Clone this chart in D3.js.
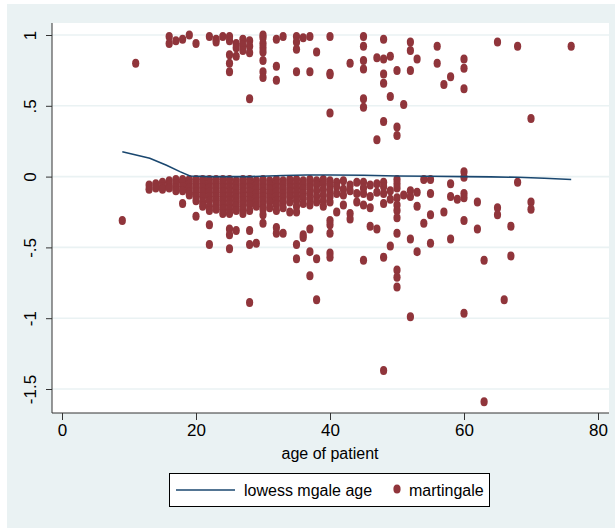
<!DOCTYPE html>
<html>
<head>
<meta charset="utf-8">
<script src="https://cdn.jsdelivr.net/npm/d3@7"></script>
<style>
  body { margin: 0; background: #fff; }
  text { font-family: "Liberation Sans", Arial, sans-serif; fill: #000; }
</style>
</head>
<body>
<div id="chart"></div>
<script>
const W = 615, H = 528;
const PLOT = { left: 52, right: 609, top: 23, bottom: 413 };
const MAROON = "#90353b", NAVY = "#1a476f", BLUISH = "#eaf2f3";

// residuals near +1 (failures), as [age, martingale]
const upperPoints = [
  [11,0.80],[16,0.99],[16,0.94],[17,0.96],[18,0.97],[19,1.0],[20,0.94],
  [22,0.99],[23,0.97],[23,0.95],[24,0.99],[25,0.99],[25,0.96],[25,0.86],[25,0.80],[25,0.74],
  [26,0.94],[26,0.91],[26,0.85],[27,0.97],[27,0.93],[27,0.89],
  [28,0.96],[28,0.92],[28,0.875],[28,0.55],
  [30,1.0],[30,0.98],[30,0.94],[30,0.91],[30,0.88],[30,0.82],[30,0.74],[30,0.70],
  [32,0.97],[32,0.78],[32,0.68],[33,0.99],[35,0.99],[35,0.95],[35,0.90],[35,0.74],
  [36,0.98],[37,0.99],[37,0.74],[38,0.88],[40,0.99],[40,0.73],[40,0.72],[40,0.45],[43,0.80],
  [45,0.99],[45,0.92],[45,0.82],[45,0.76],[45,0.55],[45,0.49],[47,0.84],[47,0.26],
  [48,0.97],[48,0.83],[48,0.725],[48,0.66],[48,0.39],[49,0.85],[49,0.565],
  [50,0.75],[50,0.35],[50,0.29],[51,0.51],[52,0.95],[52,0.89],[52,0.75],[53,0.83],
  [56,0.92],[56,0.80],[57,0.65],[58,0.705],[60,0.83],[60,0.765],[60,0.62],
  [65,0.95],[68,0.92],[70,0.41],[76,0.92]
];

// censored residuals, grouped by age
const bandAges = [9,13,14,15,16,17,18,19,20,21,22,23,24,25,26,27,28,29,30,31,32,33,34,35,36,37,38,39,40,
  41,42,43,44,45,46,47,48,49,50,51,52,53,54,55,57,58,59,60,62,63,65,66,67,68,70];
const bandValues = [
  [-0.31],
  [-0.06,-0.09],
  [-0.05,-0.08],
  [-0.04,-0.07,-0.09],
  [-0.03,-0.06,-0.08],
  [-0.02,-0.05,-0.08,-0.10],
  [-0.02,-0.04,-0.07,-0.10,-0.19],
  [-0.02,-0.05,-0.08,-0.11,-0.13],
  [-0.02,-0.05,-0.08,-0.11,-0.14,-0.17,-0.28],
  [-0.02,-0.05,-0.08,-0.11,-0.14,-0.18,-0.21],
  [-0.02,-0.05,-0.08,-0.11,-0.14,-0.17,-0.21,-0.24,-0.34,-0.48],
  [-0.02,-0.05,-0.08,-0.11,-0.14,-0.17,-0.20,-0.23],
  [-0.02,-0.05,-0.08,-0.11,-0.14,-0.17,-0.20,-0.23,-0.26],
  [-0.02,-0.05,-0.08,-0.11,-0.14,-0.17,-0.20,-0.23,-0.26,-0.37,-0.41,-0.51],
  [-0.03,-0.06,-0.09,-0.12,-0.15,-0.18,-0.21,-0.24,-0.38],
  [-0.02,-0.05,-0.08,-0.11,-0.14,-0.17,-0.20,-0.23,-0.26],
  [-0.02,-0.05,-0.08,-0.11,-0.14,-0.17,-0.20,-0.24,-0.38,-0.48,-0.89],
  [-0.03,-0.06,-0.09,-0.12,-0.15,-0.18,-0.21,-0.47],
  [-0.02,-0.05,-0.08,-0.11,-0.14,-0.17,-0.20,-0.23,-0.27,-0.33],
  [-0.03,-0.06,-0.09,-0.12,-0.15,-0.18,-0.22],
  [-0.02,-0.05,-0.08,-0.11,-0.14,-0.17,-0.20,-0.24,-0.36,-0.40],
  [-0.03,-0.06,-0.09,-0.12,-0.15,-0.18,-0.22,-0.40],
  [-0.02,-0.05,-0.08,-0.11,-0.14,-0.18,-0.25],
  [-0.02,-0.05,-0.08,-0.11,-0.14,-0.17,-0.21,-0.25,-0.48,-0.58],
  [-0.03,-0.06,-0.09,-0.12,-0.15,-0.19,-0.41,-0.43],
  [-0.02,-0.05,-0.08,-0.12,-0.16,-0.20,-0.37,-0.53,-0.70],
  [-0.03,-0.06,-0.10,-0.14,-0.18,-0.58,-0.87],
  [-0.02,-0.05,-0.09,-0.13,-0.17,-0.21],
  [-0.03,-0.06,-0.10,-0.14,-0.18,-0.31,-0.34,-0.40,-0.54,-0.57],
  [-0.04,-0.07,-0.12,-0.25],
  [-0.03,-0.09,-0.13,-0.20],
  [-0.06,-0.10,-0.26,-0.30],
  [-0.04,-0.12,-0.18],
  [-0.04,-0.08,-0.12,-0.20,-0.59],
  [-0.06,-0.14,-0.22,-0.35],
  [-0.05,-0.11,-0.37],
  [-0.04,-0.07,-0.12,-0.19,-0.57,-1.37],
  [-0.10,-0.16,-0.49],
  [-0.02,-0.05,-0.08,-0.15,-0.20,-0.24,-0.29,-0.40,-0.66,-0.71,-0.78],
  [-0.13],
  [-0.10,-0.14,-0.44,-0.99],
  [-0.11,-0.21,-0.53],
  [-0.02,-0.33],
  [-0.02,-0.12,-0.27,-0.47],
  [-0.25],
  [-0.05,-0.14,-0.44],
  [-0.16],
  [0.035,-0.005,-0.12,-0.15,-0.31,-0.965],
  [-0.18,-0.37],
  [-0.59,-1.59],
  [-0.22,-0.27],
  [-0.87],
  [-0.35,-0.56],
  [-0.04],
  [-0.18,-0.23]
];

// lowess smooth of martingale on age
const lowessAge = [9,13.1,15.6,17.6,19.1,22,28,33,36.5,40,45,50,55,60,64,68,72,76];
const lowessFit = [0.176,0.13,0.08,0.035,0.004,0.0,0.0,0.008,0.011,0.011,0.01,0.004,0.003,0.0,-0.002,-0.005,-0.012,-0.02];

const yTicks = [-1.5,-1,-0.5,0,0.5,1];
const xTicks = [0,20,40,60,80];

const svg = d3.select("#chart").append("svg").attr("width", W).attr("height", H);

svg.append("rect").attr("x", 7).attr("y", 4).attr("width", W - 7).attr("height", H - 4).attr("fill", BLUISH);
svg.append("rect")
  .attr("x", PLOT.left).attr("y", PLOT.top)
  .attr("width", PLOT.right - PLOT.left).attr("height", PLOT.bottom - PLOT.top)
  .attr("fill", "#fff");

const x = d3.scaleLinear().domain([0, 80]).range([62, 598]);
const y = d3.scaleLinear().domain([-1.5, 1]).range([389, 35]);

const fmt = v => String(v).replace("0.", ".");

// grid
svg.append("g").selectAll("line").data(yTicks).join("line")
  .attr("x1", PLOT.left).attr("x2", PLOT.right)
  .attr("y1", d => y(d)).attr("y2", d => y(d))
  .attr("stroke", BLUISH).attr("stroke-width", 1.6);

// points
const points = upperPoints.concat(bandAges.flatMap((a, i) => bandValues[i].map(v => [a, v])));
svg.append("g").selectAll("ellipse").data(points).join("ellipse")
  .attr("cx", d => x(d[0])).attr("cy", d => y(d[1]))
  .attr("rx", 3.6).attr("ry", 4.5)
  .attr("fill", MAROON);

// lowess
const line = d3.line().x(d => x(d[0])).y(d => y(d[1]));
svg.append("path")
  .datum(lowessAge.map((a, i) => [a, lowessFit[i]]))
  .attr("d", line).attr("fill", "none").attr("stroke", NAVY).attr("stroke-width", 1.6);

// axes
const yAxis = svg.append("g").attr("transform", `translate(${PLOT.left},0)`)
  .call(d3.axisLeft(y).tickValues(yTicks).tickFormat(fmt).tickSize(6).tickPadding(0));
yAxis.select(".domain").remove();
yAxis.selectAll(".tick line").attr("stroke", "#333");
yAxis.selectAll(".tick text")
  .attr("x", 0)
  .attr("text-anchor", "middle")
  .attr("transform", "translate(-22,0) rotate(-90)")
  .attr("dy", "0.35em")
  .attr("font-size", 17).attr("font-family", null);
svg.append("line").attr("x1", PLOT.left).attr("x2", PLOT.left)
  .attr("y1", PLOT.top).attr("y2", PLOT.bottom).attr("stroke", "#333");

const xAxis = svg.append("g").attr("transform", `translate(0,${PLOT.bottom})`)
  .call(d3.axisBottom(x).tickValues(xTicks).tickFormat(d3.format("d")).tickSize(7).tickPadding(4));
xAxis.select(".domain").remove();
xAxis.selectAll(".tick line").attr("stroke", "#333");
xAxis.selectAll(".tick text").attr("font-size", 17).attr("font-family", null);
svg.append("line").attr("x1", PLOT.left).attr("x2", PLOT.right)
  .attr("y1", PLOT.bottom).attr("y2", PLOT.bottom).attr("stroke", "#333");

svg.append("text").attr("x", 330).attr("y", 459).attr("text-anchor", "middle")
  .attr("font-size", 16).text("age of patient");

// legend
const lg = svg.append("g");
lg.append("rect").attr("x", 169.5).attr("y", 473.5).attr("width", 320).attr("height", 33)
  .attr("fill", "#fff").attr("stroke", "#000");
lg.append("line").attr("x1", 176).attr("x2", 235).attr("y1", 490).attr("y2", 490)
  .attr("stroke", NAVY).attr("stroke-width", 1.6);
lg.append("text").attr("x", 244).attr("y", 496).attr("font-size", 16).text("lowess mgale age");
lg.append("ellipse").attr("cx", 397).attr("cy", 489).attr("rx", 3.6).attr("ry", 4.5).attr("fill", MAROON);
lg.append("text").attr("x", 409).attr("y", 496).attr("font-size", 16).text("martingale");
</script>
</body>
</html>
